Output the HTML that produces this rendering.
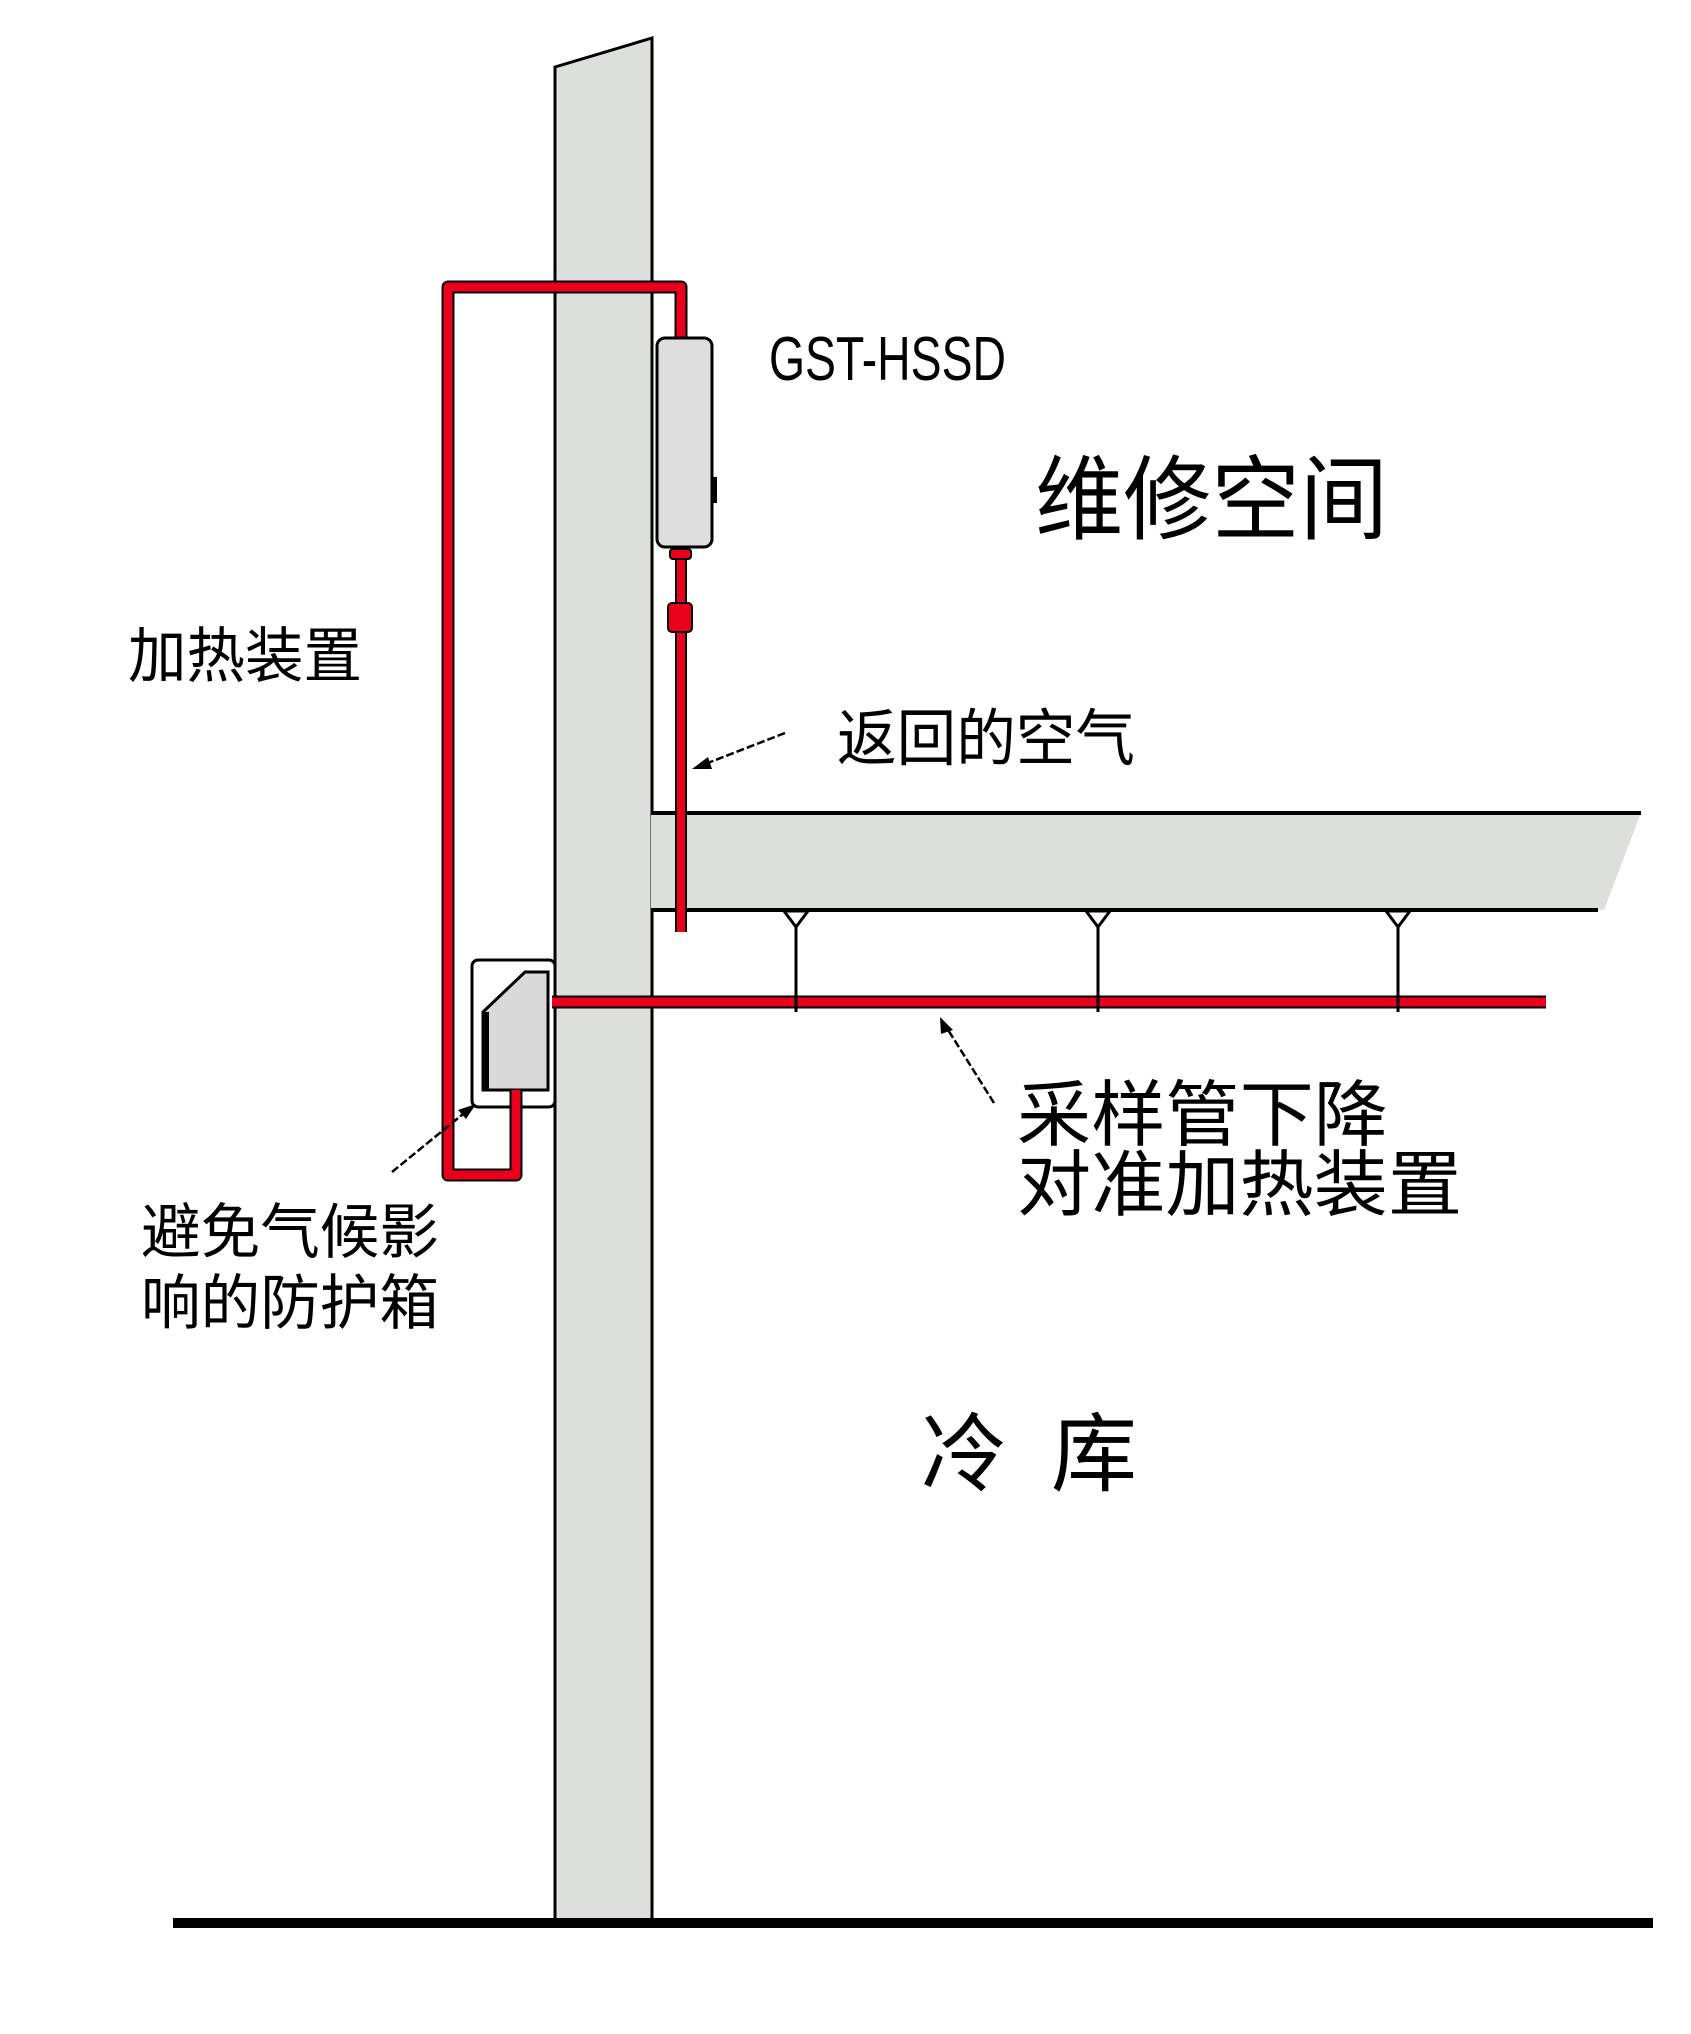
<!DOCTYPE html>
<html><head><meta charset="utf-8"><style>
html,body{margin:0;padding:0;background:#fff;}
svg{display:block;}
text{font-family:"Liberation Sans","Noto Sans CJK SC",sans-serif;fill:#000;}
.cjk{font-family:"Liberation Sans","Noto Sans CJK SC",sans-serif;font-weight:400;}
</style></head><body>
<svg width="1691" height="2034" viewBox="0 0 1691 2034" xmlns="http://www.w3.org/2000/svg">
<rect width="1691" height="2034" fill="#fff"/>
<polygon points="555,67 652,38 652,1920 555,1920" fill="#dcdfdc" stroke="#000" stroke-width="3"/>
<polygon points="652,813 1641,813 1604,910 652,910" fill="#dcdfdc"/>
<line x1="652" y1="813" x2="1641" y2="813" stroke="#000" stroke-width="4"/>
<line x1="652" y1="910" x2="1598" y2="910" stroke="#000" stroke-width="4"/>
<rect x="651" y="815" width="4" height="93" fill="#dcdfdc"/>
<rect x="173" y="1918" width="1480" height="10" fill="#000"/>
<g stroke="#000" stroke-width="3" fill="#fff">
<line x1="796" y1="915" x2="796" y2="1012"/>
<line x1="1098" y1="915" x2="1098" y2="1012"/>
<line x1="1398" y1="915" x2="1398" y2="1012"/>
<polygon points="784,911 808,911 796,927"/>
<polygon points="1086,911 1110,911 1098,927"/>
<polygon points="1386,911 1410,911 1398,927"/>
</g>
<rect x="472" y="960" width="83" height="147" rx="6" fill="#fff" stroke="#000" stroke-width="3"/>
<polygon points="483,1012 525,972 548,972 548,1090 483,1090" fill="#d9d9d9" stroke="#000" stroke-width="3"/>
<rect x="483" y="1012" width="6" height="78" fill="#000"/>
<g fill="none" stroke-linejoin="round">
<path d="M448,1172 L448,287 L681,287 L681,340" stroke="#000" stroke-width="13"/>
<path d="M448,1100 L448,1175 L516,1175 L516,1090" stroke="#000" stroke-width="13"/>
<path d="M681,545 L681,932" stroke="#000" stroke-width="12"/>
<path d="M552,1002 L1546,1002" stroke="#000" stroke-width="13"/>
<path d="M448,1172 L448,287 L681,287 L681,340" stroke="#e8001c" stroke-width="9"/>
<path d="M448,1100 L448,1175 L516,1175 L516,1090" stroke="#e8001c" stroke-width="9"/>
<path d="M681,545 L681,932" stroke="#e8001c" stroke-width="8"/>
<path d="M552,1002 L1546,1002" stroke="#e8001c" stroke-width="9"/>
</g>
<g stroke="#000" stroke-width="3"><line x1="796" y1="994" x2="796" y2="1012"/><line x1="1098" y1="994" x2="1098" y2="1012"/><line x1="1398" y1="994" x2="1398" y2="1012"/></g>
<rect x="657" y="338" width="55" height="209" rx="8" fill="#dedede" stroke="#000" stroke-width="3"/>
<rect x="711" y="477" width="6" height="26" fill="#000"/>
<rect x="670" y="549" width="21" height="10" rx="3" fill="#e8001c" stroke="#000" stroke-width="2"/>
<rect x="668" y="603" width="24" height="29" rx="4" fill="#e8001c" stroke="#000" stroke-width="2"/>
<g stroke="#000" stroke-width="2.5" stroke-dasharray="8,3" fill="none">
<line x1="785" y1="733" x2="700" y2="766"/>
<line x1="994" y1="1103" x2="945" y2="1025"/>
<line x1="392" y1="1172" x2="468" y2="1110"/>
</g>
<g fill="#000">
<polygon points="692,769 708,757 712,769"/>
<polygon points="940,1017 953,1030 941,1034"/>
<polygon points="476,1104 466,1119 458,1110"/>
</g>
<text x="769" y="380" font-size="62" textLength="237" lengthAdjust="spacingAndGlyphs">GST-HSSD</text>
<text class="cjk" x="1035" y="532" font-size="92" textLength="353" lengthAdjust="spacingAndGlyphs">维修空间</text>
<text class="cjk" x="128" y="677" font-size="60" textLength="234" lengthAdjust="spacingAndGlyphs">加热装置</text>
<text class="cjk" x="837" y="760" font-size="62" textLength="298" lengthAdjust="spacingAndGlyphs">返回的空气</text>
<text class="cjk" x="1017" y="1140" font-size="72" textLength="371" lengthAdjust="spacingAndGlyphs">采样管下降</text>
<text class="cjk" x="1017" y="1210" font-size="72" textLength="445" lengthAdjust="spacingAndGlyphs">对准加热装置</text>
<text class="cjk" x="141" y="1253" font-size="60" textLength="298" lengthAdjust="spacingAndGlyphs">避免气候影</text>
<text class="cjk" x="141" y="1324" font-size="60" textLength="298" lengthAdjust="spacingAndGlyphs">响的防护箱</text>
<text class="cjk" x="921" y="1484" font-size="86">冷</text>
<text class="cjk" x="1051" y="1484" font-size="86">库</text>
</svg>
</body></html>
